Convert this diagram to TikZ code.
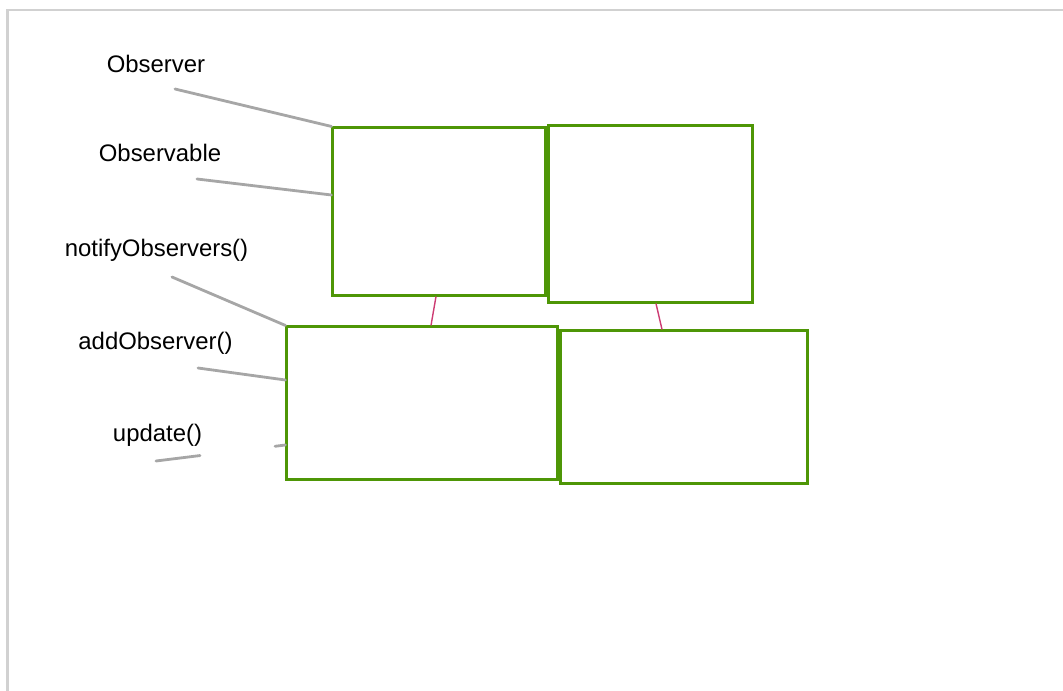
\documentclass[tikz,border=0pt]{standalone}
\usepackage{fontspec}
\setmainfont{Liberation Sans}
\definecolor{boxgreen}{RGB}{78,150,6}
\definecolor{linkpink}{RGB}{205,60,115}
\begin{document}
\begin{tikzpicture}[x=0.01cm, y=-0.01cm,
  every node/.style={font=\fontsize{6.8}{8}\selectfont},
  classbox/.style={rectangle, draw=boxgreen, line width=0.03cm, inner sep=0pt},
  tag/.style={line width=0.028cm, black!35, line cap=round},
  link/.style={line width=0.014cm, linkpink}]
  \useasboundingbox (0,0) rectangle (1063,691);
  % frame
  \draw[black!18, line width=0.02cm] (7.5,691) -- (7.5,10.5) -- (1063,10.5);
  % Four class boxes
  \node[classbox, minimum width=2.12cm, minimum height=1.67cm] (A) at (439,211.5) {};
  \node[classbox, minimum width=2.03cm, minimum height=1.76cm] (B) at (650.5,214) {};
  \node[classbox, minimum width=2.70cm, minimum height=1.52cm] (C) at (422,403) {};
  \node[classbox, minimum width=2.46cm, minimum height=1.52cm] (D) at (684,407) {};
  \draw[link] (A.south -| 436,0) -- (C.north -| 431,0);
  \draw[link] (B.south -| 656,0) -- (D.north -| 662,0);
  % Labels on the left
  \node (observer) at (156,64) {Observer};
  \node (observable) at (160,153) {Observable};
  \node (notify) at (156.5,250) {notifyObservers()};
  \node (add) at (155.5,343) {addObserver()};
  \node (update) at (157.5,435) {update()};
  \coordinate (t1) at (175,89);
  \coordinate (t2) at (197,179);
  \coordinate (t3) at (172,277);
  \coordinate (t4) at (198,368);
  \coordinate (t5) at (156,461);
  \draw[tag] (t1) -- (A.north west);
  \draw[tag] (t2) -- (A.west |- 0,195);
  \draw[tag] (t3) -- (C.north west);
  \draw[tag] (t4) -- (C.west |- 0,380);
  \path (t5) -- (C.west |- 0,445) coordinate[pos=0.34] (t5a) coordinate[pos=0.92] (t5b);
  \draw[tag] (t5) -- (t5a);
  \draw[tag] (t5b) -- (C.west |- 0,445);
\end{tikzpicture}
\end{document}
